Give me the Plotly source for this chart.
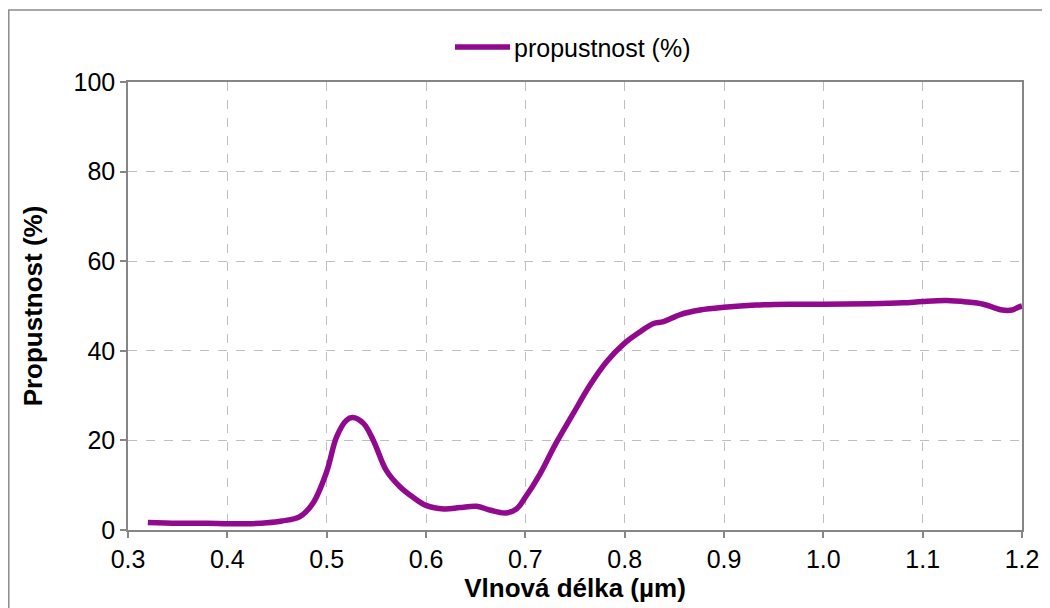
import plotly.graph_objects as go

wavelength = [0.32, 0.35, 0.38, 0.40, 0.42, 0.44, 0.455, 0.473, 0.486, 0.500,
              0.510, 0.520, 0.526, 0.537, 0.547, 0.560, 0.574, 0.587, 0.600, 0.618,
              0.634, 0.651, 0.665, 0.680, 0.691, 0.700, 0.715, 0.730, 0.748, 0.765,
              0.782, 0.800, 0.816, 0.829, 0.839, 0.856, 0.876, 0.900, 0.932, 0.966,
              1.000, 1.047, 1.080, 1.100, 1.124, 1.144, 1.161, 1.171, 1.180, 1.190,
              1.196, 1.200]
transmission = [1.7, 1.5, 1.5, 1.4, 1.4, 1.6, 2.0, 3.0, 5.9, 13.0,
                20.8, 24.5, 25.1, 23.8, 20.0, 13.3, 9.6, 7.3, 5.5, 4.7,
                5.0, 5.3, 4.4, 3.8, 4.7, 7.3, 12.6, 19.0, 25.9, 32.3,
                37.6, 41.7, 44.3, 46.1, 46.5, 48.1, 49.1, 49.7, 50.2, 50.4,
                50.4, 50.5, 50.7, 51.0, 51.2, 50.9, 50.4, 49.7, 49.1, 49.1,
                49.7, 50.0]
x_ticks = [0.3, 0.4, 0.5, 0.6, 0.7, 0.8, 0.9, 1.0, 1.1, 1.2]
x_tick_labels = ["0.3", "0.4", "0.5", "0.6", "0.7", "0.8", "0.9", "1.0", "1.1", "1.2"]
y_ticks = [0, 20, 40, 60, 80, 100]
series_name = "propustnost (%)"

LINE = "#910A8E"
AXIS = "#868686"
GRID = "#BFBFBF"
FONT = "Liberation Sans, Arial, sans-serif"

# page has an 8px body margin, so the figure is sized/offset accordingly
W, H = 1042, 600
L, R, T, B = 120, 28, 74, 78
PW, PH = W - L - R, H - T - B


def px(xp):  # reference page x -> paper
    return (xp - 8 - L) / PW


def py(yp):  # reference page y -> paper
    return (H - B - (yp - 8)) / PH


fig = go.Figure()
fig.add_trace(go.Scatter(
    x=wavelength, y=transmission, mode="lines", name=series_name,
    line=dict(color=LINE, width=5.5, shape="spline", smoothing=1.0),
    showlegend=False,
))

# outer chart border
fig.add_shape(type="rect", xref="paper", yref="paper",
              x0=px(8.8), x1=px(1070), y0=py(640), y1=py(10),
              line=dict(color="#8C8C8C", width=1.5), layer="below")
# legend
fig.add_shape(type="line", xref="paper", yref="paper",
              x0=px(455), x1=px(510), y0=py(47), y1=py(47),
              line=dict(color=LINE, width=5.5))
fig.add_annotation(xref="paper", yref="paper", x=px(512), y=py(48),
                   text=series_name, showarrow=False, xanchor="left", yanchor="middle",
                   font=dict(family=FONT, size=25, color="#000000"))

fig.update_layout(
    width=W, height=H,
    margin=dict(l=L, r=R, t=T, b=B),
    paper_bgcolor="white", plot_bgcolor="white",
    font=dict(family=FONT, size=25, color="#000000"),
    showlegend=False,
)
fig.update_xaxes(
    range=[0.3, 1.2], tickvals=x_ticks, ticktext=x_tick_labels,
    showgrid=True, gridcolor=GRID, griddash="dash", gridwidth=1,
    showline=True, linecolor=AXIS, linewidth=1.5, mirror=True,
    ticks="outside", ticklen=6, tickcolor=AXIS, tickwidth=1.5,
    zeroline=False,
    title=dict(text="<b>Vlnová délka (µm)</b>", font=dict(size=26), standoff=5),
)
fig.update_yaxes(
    range=[0, 100], tickvals=y_ticks,
    showgrid=True, gridcolor=GRID, griddash="dash", gridwidth=1,
    showline=True, linecolor=AXIS, linewidth=1.5, mirror=True,
    ticks="outside", ticklen=6, tickcolor=AXIS, tickwidth=1.5,
    zeroline=False,
    title=dict(text="<b>Propustnost (%)</b>", font=dict(size=26), standoff=23),
)

fig.write_html("out.html")
